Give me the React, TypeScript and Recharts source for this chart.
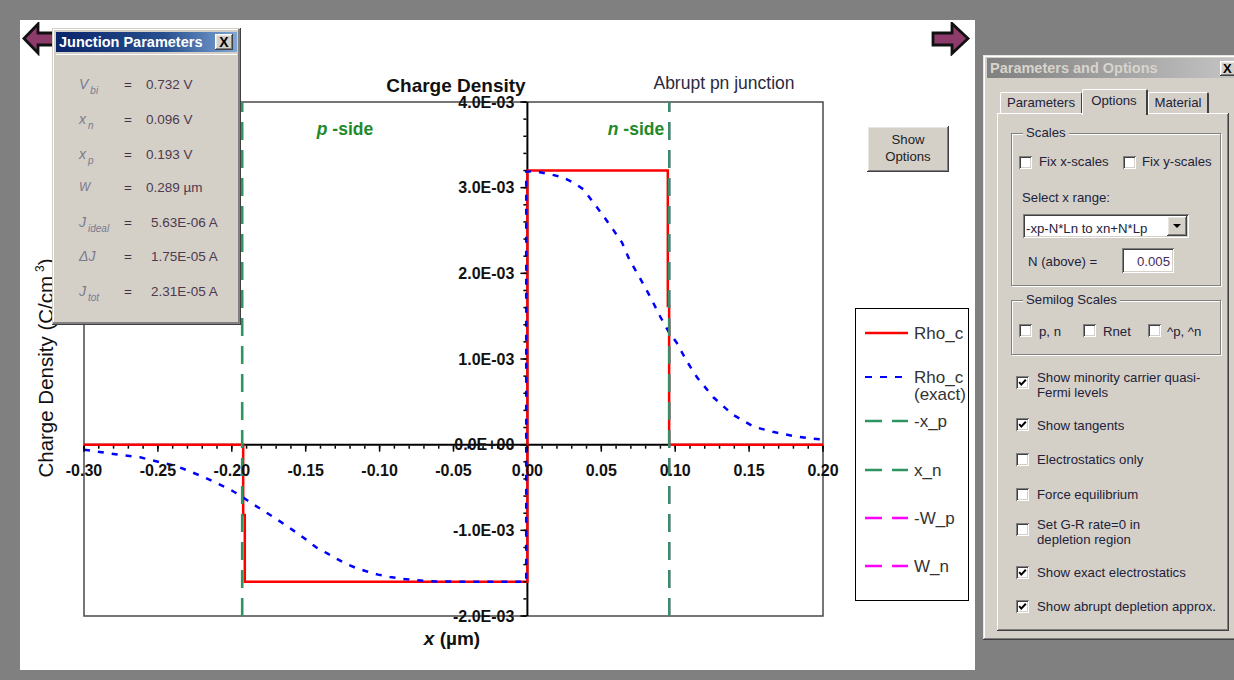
import React from 'react';
import { LineChart, Line, XAxis, YAxis, ReferenceDot, ReferenceLine, ReferenceArea } from 'recharts';

// ---------------- data ----------------
const xTicks = [-0.3, -0.25, -0.2, -0.15, -0.1, -0.05, 0, 0.05, 0.1, 0.15, 0.2];
const xTickLabels = ['-0.30', '-0.25', '-0.20', '-0.15', '-0.10', '-0.05', '0.00', '0.05', '0.10', '0.15', '0.20'];
const yTicks = [-0.002, -0.001, 0, 0.001, 0.002, 0.003, 0.004];
const yTickLabels = ['-2.0E-03', '-1.0E-03', '0.0E+00', '1.0E-03', '2.0E-03', '3.0E-03', '4.0E-03'];
const xDomain = [-0.3, 0.2];
const yDomain = [-0.002, 0.004];
const xMinorTicks = Array.from({ length: 51 }, (_, i) => Math.round((-0.3 + i * 0.01) * 1000) / 1000);
const yMinorTicks = Array.from({ length: 31 }, (_, i) => Math.round((-0.002 + i * 0.0002) * 1e5) / 1e5);

// Rho_c (abrupt depletion approximation), C/cm^3
const abruptX = [-0.3, -0.1923, -0.1923, -0.1912, -0.1912, 0, 0, 0.095, 0.095, 0.0959, 0.0959, 0.2];
const abruptRho = [0, 0, -0.00082, -0.00082, -0.0016, -0.0016, 0.0032, 0.0032, 0.00162, 0.00162, 0, 0];

// Rho_c (exact), C/cm^3
const exactX = [
  -0.3, -0.28, -0.262, -0.237, -0.219, -0.201, -0.194, -0.187, -0.179, -0.171, -0.163, -0.156,
  -0.149, -0.143, -0.136, -0.13, -0.123, -0.116, -0.109, -0.101, -0.093, -0.084, -0.075, -0.066,
  -0.045, -0.02, -0.0008, -0.0008, 0.0004, 0.0085, 0.017, 0.024, 0.031, 0.038, 0.044, 0.051,
  0.058, 0.064, 0.069, 0.076, 0.083, 0.09, 0.0955, 0.101, 0.108, 0.115, 0.126, 0.139, 0.153,
  0.166, 0.18, 0.193, 0.2,
];
const exactRho = [
  -0.000058, -0.000109, -0.000148, -0.000253, -0.000377, -0.000525, -0.000595, -0.00068, -0.000766,
  -0.000855, -0.000945, -0.00103, -0.001117, -0.001198, -0.001264, -0.001322, -0.001389, -0.001439,
  -0.001478, -0.001517, -0.001544, -0.001567, -0.001583, -0.001595, -0.0016, -0.0016, -0.0016,
  0.00319, 0.00319, 0.00318, 0.00315, 0.00312, 0.00306, 0.00298, 0.00284, 0.00268, 0.00251,
  0.00236, 0.00216, 0.00195, 0.00173, 0.00149, 0.00132, 0.00119, 0.00097, 0.00078, 0.00055,
  0.00035, 0.00021, 0.00015, 0.0001, 0.00007, 0.00006,
];

// depletion edges (µm)
const xpEdge = -0.193;
const xnEdge = 0.096;
const wpEdge = -0.193;
const wnEdge = 0.096;

const legendItems = ['Rho_c', 'Rho_c (exact)', '-x_p', 'x_n', '-W_p', 'W_n'];

const junctionRows = [
  { sym: 'V', sub: 'bi', val: '0.732 V' },
  { sym: 'x', sub: 'n', val: '0.096 V' },
  { sym: 'x', sub: 'p', val: '0.193 V' },
  { sym: 'W', sub: '', val: '0.289 µm' },
  { sym: 'J', sub: 'ideal', val: '5.63E-06 A' },
  { sym: 'ΔJ', sub: '', val: '1.75E-05 A' },
  { sym: 'J', sub: 'tot', val: '2.31E-05 A' },
];

// ---------------- derived tables ----------------
const abruptData = abruptX.map((x, i) => ({ x, y: abruptRho[i] }));
const exactData = exactX.map((x, i) => ({ x, y: exactRho[i] }));
const edgeLine = (x: number) => [{ x, y: yDomain[0] }, { x, y: yDomain[1] }];

// ---------------- styles ----------------
const FONT = '"Liberation Sans", Arial, Helvetica, sans-serif';
const GREEN = '#2e9460';
const FACE = '#d4d0c8';
const RAISED = 'inset -1px -1px #404040, inset 1px 1px #ffffff, inset -2px -2px #808080, inset 2px 2px #e8e6e0';
const SUNKEN = 'inset 1px 1px #808080, inset -1px -1px #ffffff, inset 2px 2px #404040, inset -2px -2px #d4d0c8';
const UI_FS = 13.2;
const UI_COLOR = '#22223a';

function xTickShape(label: string | null, major: boolean) {
  return (p: any) => (
    <g>
      <line x1={p.cx} x2={p.cx} y1={p.cy + 1} y2={p.cy + (major ? 7 : 4)} stroke="#000" strokeWidth={1.5} />
      {label !== null && (
        <text x={p.cx} y={p.cy + 31} textAnchor="middle" fontFamily={FONT} fontSize={16} fontWeight="bold" fill="#111">
          {label}
        </text>
      )}
    </g>
  );
}

function yTickShape(label: string | null, major: boolean) {
  return (p: any) => (
    <g>
      <line x1={p.cx - 1} x2={p.cx - (major ? 7 : 4)} y1={p.cy} y2={p.cy} stroke="#000" strokeWidth={1.5} />
      {label !== null && (
        <text x={p.cx - 13} y={p.cy + 5.8} textAnchor="end" fontFamily={FONT} fontSize={16} fontWeight="bold" fill="#111">
          {label}
        </text>
      )}
    </g>
  );
}

function CheckBox({ left, top, checked }: { left: number; top: number; checked?: boolean }) {
  return (
    <div style={{ position: 'absolute', left, top, width: 13, height: 13, background: '#fff', boxShadow: SUNKEN }}>
      {checked && (
        <svg width={13} height={13} style={{ position: 'absolute', left: 0, top: 0 }}>
          <path d="M3.2 6.2 L5.3 8.6 L9.8 3.8" stroke="#000" strokeWidth={2} fill="none" />
        </svg>
      )}
    </div>
  );
}

function UIText({ left, top, children, color, size, lh, width, align }: any) {
  return (
    <div
      style={{
        position: 'absolute',
        left,
        top,
        width,
        textAlign: align,
        fontFamily: FONT,
        fontSize: size ?? UI_FS,
        lineHeight: lh ?? `${size ?? UI_FS}px`,
        color: color ?? UI_COLOR,
        whiteSpace: 'pre',
      }}
    >
      {children}
    </div>
  );
}

function GroupBox({ left, top, width, height, label }: any) {
  return (
    <>
      <div
        style={{
          position: 'absolute',
          left,
          top,
          width,
          height,
          border: '1px solid #808080',
          boxShadow: '1px 1px 0 #fff, inset 1px 1px 0 #fff',
        }}
      />
      <div
        style={{
          position: 'absolute',
          left: left + 12,
          top: top - 7,
          padding: '0 3px',
          background: FACE,
          fontFamily: FONT,
          fontSize: UI_FS,
          lineHeight: `${UI_FS}px`,
          color: UI_COLOR,
        }}
      >
        {label}
      </div>
    </>
  );
}

function Chart() {
  return (
    <LineChart width={955} height={650} margin={{ top: 82, right: 152, bottom: 54, left: 64 }}>
      <XAxis dataKey="x" type="number" domain={xDomain} hide allowDataOverflow />
      <YAxis type="number" domain={yDomain} hide allowDataOverflow />
      <ReferenceArea
        x1={xDomain[0]}
        x2={xDomain[1]}
        y1={yDomain[0]}
        y2={yDomain[1]}
        fill="none"
        fillOpacity={0}
        stroke="#4a4a4a"
        strokeWidth={1.5}
        ifOverflow="visible"
      />
      <ReferenceLine y={0} stroke="#000" strokeWidth={2} ifOverflow="visible" />
      <ReferenceLine x={0} stroke="#000" strokeWidth={2} ifOverflow="visible" />
      {xMinorTicks.map((v) => (
        <ReferenceDot key={'xm' + v} x={v} y={0} r={0} ifOverflow="visible" shape={xTickShape(null, false)} />
      ))}
      {xTicks.map((v, i) => (
        <ReferenceDot key={'xM' + v} x={v} y={0} r={0} ifOverflow="visible" shape={xTickShape(xTickLabels[i], true)} />
      ))}
      {yMinorTicks.map((v) => (
        <ReferenceDot key={'ym' + v} x={0} y={v} r={0} ifOverflow="visible" shape={yTickShape(null, false)} />
      ))}
      {yTicks.map((v, i) => (
        <ReferenceDot key={'yM' + v} x={0} y={v} r={0} ifOverflow="visible" shape={yTickShape(yTickLabels[i], true)} />
      ))}
      <Line data={abruptData} dataKey="y" type="linear" stroke="#ff0000" strokeWidth={2.5} dot={false} activeDot={false} isAnimationActive={false} />
      <Line data={exactData} dataKey="y" type="linear" stroke="#0000ff" strokeWidth={2.5} strokeDasharray="6 8" dot={false} activeDot={false} isAnimationActive={false} />
      <Line data={edgeLine(wpEdge)} dataKey="y" stroke="#ff00ff" strokeWidth={2} strokeDasharray="18 10" dot={false} activeDot={false} isAnimationActive={false} />
      <Line data={edgeLine(wnEdge)} dataKey="y" stroke="#ff00ff" strokeWidth={2} strokeDasharray="18 10" dot={false} activeDot={false} isAnimationActive={false} />
      <Line data={edgeLine(xpEdge)} dataKey="y" stroke={GREEN} strokeWidth={2.5} strokeDasharray="18 10" dot={false} activeDot={false} isAnimationActive={false} />
      <Line data={edgeLine(xnEdge)} dataKey="y" stroke={GREEN} strokeWidth={2.5} strokeDasharray="18 10" dot={false} activeDot={false} isAnimationActive={false} />
    </LineChart>
  );
}

function Legend() {
  const rows = [
    { y: 24, color: '#ff0000', dash: undefined, w: 2.5, text: [legendItems[0]] },
    { y: 68, color: '#0000ff', dash: '7 8', w: 2.2, text: ['Rho_c', '(exact)'] },
    { y: 112, color: GREEN, dash: '17 10', w: 2.5, text: [legendItems[2]] },
    { y: 161, color: GREEN, dash: '17 10', w: 2.5, text: [legendItems[3]] },
    { y: 209, color: '#ff00ff', dash: '17 10', w: 2.5, text: [legendItems[4]] },
    { y: 257, color: '#ff00ff', dash: '17 10', w: 2.5, text: [legendItems[5]] },
  ];
  return (
    <div style={{ position: 'absolute', left: 855, top: 308, width: 112, height: 291, border: '1px solid #000', background: '#fff' }}>
      <svg width={112} height={291}>
        {rows.map((r, i) => (
          <g key={i}>
            <line x1={9} x2={52} y1={r.y} y2={r.y} stroke={r.color} strokeWidth={r.w} strokeDasharray={r.dash} />
            {r.text.map((t, j) => (
              <text key={j} x={58} y={r.y + 6 + j * 17} fontFamily={FONT} fontSize={17} fill="#333">
                {t}
              </text>
            ))}
          </g>
        ))}
      </svg>
    </div>
  );
}

function Arrow({ left, top, dir }: { left: number; top: number; dir: 'l' | 'r' }) {
  const pts =
    dir === 'l'
      ? '2,16.5 16,2 16,11 32,11 32,23 16,23 16,31'
      : '37,16.5 21,1.5 21,11 2,11 2,23 21,23 21,31.5';
  return (
    <svg width={40} height={34} style={{ position: 'absolute', left, top }}>
      <polygon points={pts} fill="#8c3b6b" stroke="#111" strokeWidth={2.8} strokeLinejoin="miter" />
    </svg>
  );
}

function JunctionPanel() {
  const centers = [85, 120, 155, 188, 223, 257, 292];
  return (
    <div
      style={{
        position: 'absolute',
        left: 52,
        top: 28,
        width: 189,
        height: 297,
        background: FACE,
        boxShadow: 'inset -1px -1px #404040, inset 1px 1px #d4d0c8, inset -3px -3px #808080, inset 2px 2px #ffffff',
      }}
    >
      <div
        style={{
          position: 'absolute',
          left: 4,
          top: 4,
          width: 181,
          height: 20,
          background: 'linear-gradient(to right, #0a246a 0%, #27508f 60%, #7ea6d6 100%)',
        }}
      />
      <div style={{ position: 'absolute', left: 7, top: 6, fontFamily: FONT, fontSize: 14.5, lineHeight: '16px', fontWeight: 'bold', color: '#fff', whiteSpace: 'pre' }}>
        Junction Parameters
      </div>
      <div
        style={{
          position: 'absolute',
          left: 163,
          top: 6,
          width: 18,
          height: 16,
          background: FACE,
          boxShadow: RAISED,
          fontFamily: FONT,
          fontSize: 14,
          fontWeight: 'bold',
          lineHeight: '16px',
          textAlign: 'center',
          color: '#000',
        }}
      >
        X
      </div>
      <div style={{ position: 'absolute', left: 4, top: 26, width: 181, height: 1, background: '#fff' }} />
      {junctionRows.map((r, i) => {
        const c = centers[i] - 28;
        const isJ = r.val.endsWith('A');
        const small = r.sym === 'W';
        return (
          <React.Fragment key={i}>
            <div style={{ position: 'absolute', left: 27, top: c - 9, fontFamily: FONT, fontStyle: 'italic', fontSize: small ? 12 : 14, lineHeight: '16px', color: '#7a7a8e', whiteSpace: 'pre' }}>
              {r.sym}
              {r.sub && (
                <span style={{ fontSize: 10, position: 'relative', top: 5, marginLeft: 2 }}>{r.sub}</span>
              )}
            </div>
            <div style={{ position: 'absolute', left: 72, top: c - 8, fontFamily: FONT, fontSize: 13.5, lineHeight: '16px', color: '#3c3444' }}>=</div>
            <div style={{ position: 'absolute', left: isJ ? 99 : 94, top: c - 8, fontFamily: FONT, fontSize: 13.5, lineHeight: '16px', color: '#4e3a4e', whiteSpace: 'pre' }}>
              {r.val}
            </div>
          </React.Fragment>
        );
      })}
    </div>
  );
}

function OptionsPanel() {
  const opts = [
    { box: 376, text: ['Show minority carrier quasi-', 'Fermi levels'], c: 385, checked: true },
    { box: 418, text: ['Show tangents'], c: 425, checked: true },
    { box: 453, text: ['Electrostatics only'], c: 459, checked: false },
    { box: 488, text: ['Force equilibrium'], c: 494, checked: false },
    { box: 523, text: ['Set G-R rate=0 in', 'depletion region'], c: 532, checked: false },
    { box: 566, text: ['Show exact electrostatics'], c: 572, checked: true },
    { box: 600, text: ['Show abrupt depletion approx.'], c: 606, checked: true },
  ];
  return (
    <>
      {/* window */}
      <div style={{ position: 'absolute', left: 983, top: 55, width: 262, height: 585, background: FACE, boxShadow: 'inset -1px -1px #404040, inset 1px 1px #e8e6e0, inset -2px -2px #808080, inset 2px 2px #ffffff' }} />
      <div style={{ position: 'absolute', left: 987, top: 58, width: 250, height: 20, background: 'linear-gradient(to right, #808080 0%, #a8a8a8 60%, #c4c4c4 100%)' }} />
      <UIText left={990} top={60} size={14.5} color="#d8d4cc" lh="16px">
        <b>Parameters and Options</b>
      </UIText>
      <div style={{ position: 'absolute', left: 1220, top: 61, width: 20, height: 15, background: FACE, boxShadow: RAISED, fontFamily: FONT, fontWeight: 'bold', fontSize: 13, lineHeight: '15px', paddingLeft: 3, color: '#000' }}>X</div>

      {/* tab page */}
      <div style={{ position: 'absolute', left: 997, top: 113, width: 232, height: 518, background: FACE, boxShadow: 'inset -1px -1px #404040, inset 1px 1px #ffffff, inset -2px -2px #808080' }} />
      {/* tabs */}
      <div style={{ position: 'absolute', left: 1000, top: 92, width: 82, height: 21, background: FACE, borderTop: '1px solid #fff', borderLeft: '1px solid #fff', borderRight: '1px solid #404040', borderTopLeftRadius: 2, borderTopRightRadius: 2, boxSizing: 'border-box' }} />
      <UIText left={1000} top={96} width={82} align="center">Parameters</UIText>
      <div style={{ position: 'absolute', left: 1148, top: 92, width: 61, height: 21, background: FACE, borderTop: '1px solid #fff', borderLeft: '1px solid #fff', borderRight: '2px solid #404040', borderTopLeftRadius: 2, borderTopRightRadius: 2, boxSizing: 'border-box' }} />
      <UIText left={1148} top={96} width={60} align="center">Material</UIText>
      <div style={{ position: 'absolute', left: 1082, top: 89, width: 66, height: 26, background: FACE, borderTop: '1px solid #fff', borderLeft: '1px solid #fff', borderRight: '2px solid #404040', borderTopLeftRadius: 2, borderTopRightRadius: 2, boxSizing: 'border-box' }} />
      <UIText left={1082} top={94} width={64} align="center">Options</UIText>

      {/* Scales */}
      <GroupBox left={1011} top={133} width={208} height={151} label="Scales" />
      <CheckBox left={1019} top={156} />
      <UIText left={1039} top={155}>Fix x-scales</UIText>
      <CheckBox left={1123} top={156} />
      <UIText left={1142} top={155}>Fix y-scales</UIText>
      <UIText left={1022} top={191}>Select x range:</UIText>
      <div style={{ position: 'absolute', left: 1023, top: 214, width: 166, height: 24, background: '#fff', boxShadow: SUNKEN }} />
      <UIText left={1026} top={222}>-xp-N*Ln to xn+N*Lp</UIText>
      <div style={{ position: 'absolute', left: 1167, top: 216, width: 20, height: 20, background: FACE, boxShadow: RAISED }}>
        <svg width={20} height={20}>
          <polygon points="6,8 14,8 10,12" fill="#000" />
        </svg>
      </div>
      <UIText left={1028} top={255}>N (above) =</UIText>
      <div style={{ position: 'absolute', left: 1122, top: 248, width: 52, height: 25, background: '#fff', boxShadow: SUNKEN }} />
      <UIText left={1122} top={255} width={48} align="right" color="#4a2c5c">0.005</UIText>

      {/* Semilog */}
      <GroupBox left={1011} top={300} width={208} height={53} label="Semilog Scales" />
      <CheckBox left={1019} top={324} />
      <UIText left={1039} top={325}>p, n</UIText>
      <CheckBox left={1083} top={324} />
      <UIText left={1103} top={325}>Rnet</UIText>
      <CheckBox left={1148} top={324} />
      <UIText left={1167} top={325}>^p, ^n</UIText>

      {opts.map((o, i) => (
        <React.Fragment key={i}>
          <CheckBox left={1016} top={o.box} checked={o.checked} />
          <UIText left={1037} top={o.c - (o.text.length * 15) / 2} lh="15px">
            {o.text.join('\n')}
          </UIText>
        </React.Fragment>
      ))}
    </>
  );
}

export default function App() {
  return (
    <div style={{ position: 'absolute', left: 0, top: 0, width: 1234, height: 680, background: '#808080', overflow: 'hidden', fontFamily: FONT }}>
      <div style={{ position: 'absolute', left: 20, top: 20, width: 955, height: 650, background: '#fff' }} />
      <div style={{ position: 'absolute', left: 20, top: 20 }}>
        <Chart />
      </div>

      {/* chart texts */}
      <div style={{ position: 'absolute', left: 336, top: 75.5, width: 240, textAlign: 'center', fontFamily: FONT, fontSize: 19, lineHeight: '19px', fontWeight: 'bold', color: '#111' }}>
        Charge Density
      </div>
      <div style={{ position: 'absolute', left: 624, top: 74.5, width: 200, textAlign: 'center', fontFamily: FONT, fontSize: 17.5, lineHeight: '17.5px', color: '#2a2a3c' }}>
        Abrupt pn junction
      </div>
      <div style={{ position: 'absolute', left: 285, top: 120.5, width: 120, textAlign: 'center', fontFamily: FONT, fontSize: 17.5, lineHeight: '17.5px', fontWeight: 'bold', color: '#1f8a2a', whiteSpace: 'pre' }}>
        <i>p</i> -side
      </div>
      <div style={{ position: 'absolute', left: 576, top: 120.5, width: 120, textAlign: 'center', fontFamily: FONT, fontSize: 17.5, lineHeight: '17.5px', fontWeight: 'bold', color: '#1f8a2a', whiteSpace: 'pre' }}>
        <i>n</i> -side
      </div>
      <div style={{ position: 'absolute', left: 352, top: 628.5, width: 200, textAlign: 'center', fontFamily: FONT, fontSize: 19, lineHeight: '19px', fontWeight: 'bold', color: '#111', whiteSpace: 'pre' }}>
        <i>x</i> (µm)
      </div>
      <div
        style={{
          position: 'absolute',
          left: 46 - 150,
          top: 368 - 11,
          width: 300,
          height: 22,
          textAlign: 'center',
          transform: 'rotate(-90deg)',
          fontFamily: FONT,
          fontSize: 20.5,
          lineHeight: '22px',
          color: '#111',
          whiteSpace: 'pre',
        }}
      >
        Charge Density (C/cm<span style={{ fontSize: 12, position: 'relative', top: -9, marginLeft: 4 }}>3</span>)
      </div>

      {/* Show Options button */}
      <div style={{ position: 'absolute', left: 867, top: 126, width: 82, height: 46, background: FACE, boxShadow: RAISED }} />
      <UIText left={867} top={131} width={82} align="center" lh="17px" color="#222">
        {'Show\nOptions'}
      </UIText>

      <Legend />
      <Arrow left={22} top={22} dir="l" />
      <Arrow left={931} top={22} dir="r" />
      <JunctionPanel />
      <OptionsPanel />
    </div>
  );
}
